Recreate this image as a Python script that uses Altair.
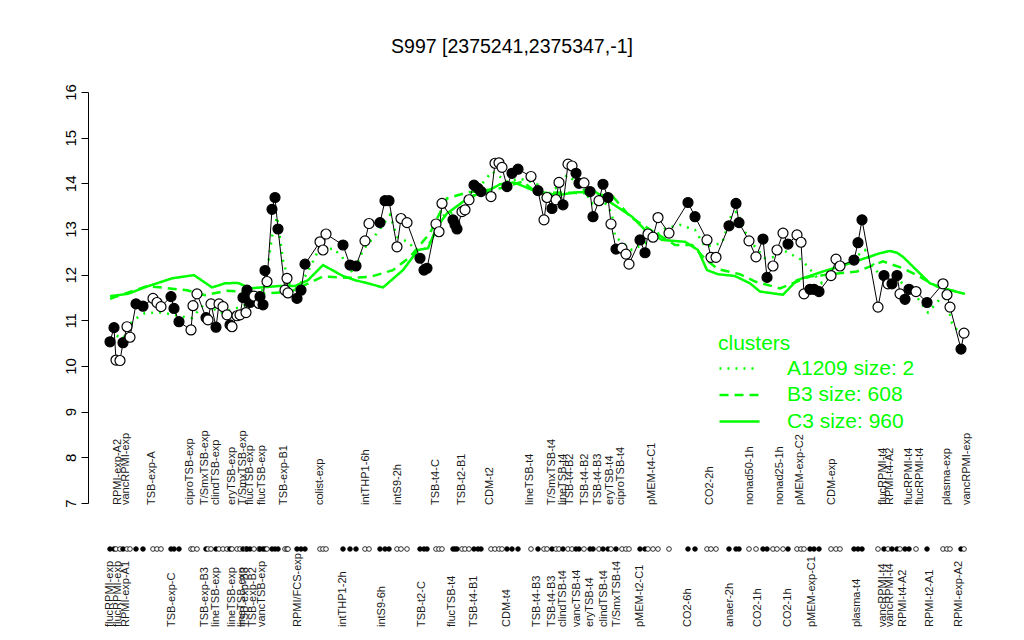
import altair as alt
import pandas as pd

# ---- gene profile (position along the condition axis, expression, filled marker?) ----
pos = [110, 114, 116, 120, 123, 127, 130, 136, 143, 153, 157, 161, 171, 174, 179, 191, 193, 197,
       206, 208, 211, 216, 219, 223, 227, 230, 232, 237, 240, 243, 246, 247, 250, 254, 259, 260,
       263, 265, 267, 272, 275, 278, 285, 287, 288, 297, 301, 305, 320, 323, 326, 343, 350, 356,
       365, 369, 380, 385, 389, 397, 401, 407, 420, 424, 427, 436, 439, 442, 453, 455, 457, 462,
       465, 469, 474, 478, 481, 491, 495, 499, 502, 507, 512, 518, 531, 538, 544, 547, 552, 556,
       559, 563, 568, 572, 576, 579, 584, 590, 593, 599, 603, 608, 611, 616, 622, 626, 629, 640,
       645, 648, 653, 658, 669, 688, 695, 707, 711, 716, 729, 736, 739, 749, 756, 763, 767, 773,
       777, 783, 788, 797, 801, 804, 810, 814, 819, 831, 836, 840, 854, 858, 862, 878, 884, 888,
       892, 897, 900, 905, 909, 916, 927, 943, 947, 950, 961, 964]
expr = [10.53, 10.84, 10.13, 10.12, 10.51, 10.86, 10.63, 11.36, 11.31, 11.48, 11.39, 11.30, 11.52,
        11.26, 10.97, 10.79, 11.32, 11.58, 11.06, 11.01, 11.36, 10.85, 11.36, 11.30, 11.12, 10.90,
        10.86, 11.10, 11.12, 11.50, 11.17, 11.66, 11.39, 11.53, 11.37, 11.52, 11.34, 12.09, 11.85,
        13.43, 13.69, 13.00, 11.66, 11.92, 11.60, 11.48, 11.66, 12.23, 12.72, 12.54, 12.89, 12.65,
        12.21, 12.19, 12.74, 13.12, 13.14, 13.62, 13.62, 12.61, 13.23, 13.14, 12.36, 12.10, 12.14,
        13.11, 12.94, 13.56, 13.20, 13.10, 13.00, 13.38, 13.42, 13.64, 13.96, 13.89, 13.82, 13.71,
        14.44, 14.45, 14.35, 13.93, 14.22, 14.31, 14.15, 13.84, 13.20, 13.69, 13.45, 13.64, 14.02,
        13.53, 14.42, 14.38, 14.22, 14.00, 14.01, 13.82, 13.27, 13.62, 13.98, 13.69, 13.11, 12.56,
        12.58, 12.45, 12.23, 12.76, 12.48, 12.89, 12.82, 13.25, 12.91, 13.58, 13.27, 12.76, 12.38,
        12.38, 13.07, 13.56, 13.14, 12.74, 12.39, 12.78, 11.94, 12.19, 12.54, 12.91, 12.67, 12.87,
        12.71, 11.58, 11.68, 11.68, 11.63, 11.98, 12.34, 12.19, 12.32, 12.70, 13.20, 11.29, 11.98,
        11.80, 11.80, 11.98, 11.58, 11.46, 11.68, 11.63, 11.39, 11.80, 11.56, 11.29, 10.37, 10.72]
filled = [1, 1, 0, 0, 1, 0, 0, 1, 1, 0, 0, 0, 1, 1, 1, 0, 0, 0, 1, 0, 0, 1, 0, 0, 0, 1, 0, 0, 0, 1,
          0, 1, 1, 0, 0, 1, 1, 1, 0, 1, 1, 1, 0, 0, 0, 1, 1, 1, 0, 0, 0, 1, 1, 1, 0, 0, 1, 1, 1, 0,
          0, 0, 1, 1, 1, 0, 0, 0, 1, 1, 1, 0, 0, 0, 1, 1, 1, 0, 0, 0, 0, 1, 1, 1, 0, 1, 0, 0, 1, 0,
          0, 1, 0, 0, 1, 1, 0, 1, 1, 0, 1, 1, 0, 1, 0, 0, 0, 1, 1, 0, 0, 0, 0, 1, 1, 0, 0, 0, 1, 1,
          1, 0, 0, 1, 1, 0, 0, 0, 1, 0, 0, 0, 1, 1, 1, 0, 0, 0, 1, 1, 1, 0, 1, 0, 1, 1, 0, 1, 1, 0,
          1, 0, 0, 0, 1, 0]

# ---- cluster mean profiles ----
c3_pos = [110, 128, 147, 172, 194, 212, 225, 238, 250, 278, 295, 308, 323, 343, 355, 368, 383,
          403, 418, 428, 437, 447, 457, 470, 487, 500, 514, 533, 557, 575, 595, 612, 632, 645,
          662, 685, 698, 707, 718, 735, 750, 760, 783, 797, 823, 850, 880, 890, 897, 903, 930,
          950, 965]
c3_val = [11.53, 11.58, 11.74, 11.92, 11.99, 11.72, 11.81, 11.82, 11.70, 11.75, 11.75, 11.88,
          12.21, 11.97, 11.88, 11.81, 11.72, 12.10, 12.54, 12.58, 13.05, 13.34, 13.50, 13.71,
          13.82, 13.98, 14.02, 13.85, 13.74, 13.80, 13.82, 13.56, 13.27, 12.98, 12.76, 12.72,
          12.54, 12.10, 12.01, 11.97, 11.81, 11.63, 11.56, 11.88, 12.07, 12.25, 12.47, 12.52,
          12.48, 12.39, 11.81, 11.66, 11.58]

b3_pos = [110, 147, 187, 205, 227, 263, 290, 323, 347, 370, 393, 410, 430, 447, 467, 500, 523,
          537, 560, 590, 613, 630, 647, 675, 692, 705, 718, 740, 755, 780, 810, 857, 883, 903,
          917, 937, 960]
b3_val = [11.47, 11.75, 11.66, 11.55, 11.65, 11.59, 11.62, 11.96, 11.93, 11.95, 12.10, 12.39,
          12.91, 13.67, 13.80, 13.89, 14.04, 13.78, 13.80, 13.78, 13.71, 13.27, 13.03, 12.65,
          12.65, 12.35, 12.12, 12.01, 11.85, 11.70, 11.96, 12.07, 12.29, 12.14, 11.99, 11.74,
          11.61]

a1209_pos = [110, 115, 123, 133, 145, 162, 183, 192, 205, 220, 242, 255, 265, 272, 277, 283, 292,
             303, 308, 317, 333, 342, 353, 363, 377, 390, 397, 410, 418, 432, 440, 450, 467, 477,
             492, 507, 520, 537, 542, 558, 567, 582, 592, 603, 612, 615, 632, 645, 665, 680, 695,
             705, 722, 732, 737, 745, 755, 765, 775, 783, 802, 822, 838, 865, 882, 893, 912, 928,
             945, 952, 962]
a1209_val = [10.60, 10.68, 10.60, 11.00, 11.16, 11.17, 11.08, 11.05, 11.38, 11.16, 11.30, 11.45,
             11.74, 12.83, 13.27, 12.32, 11.59, 11.88, 12.07, 12.47, 12.58, 12.39, 12.03, 12.54,
             12.91, 13.31, 12.83, 12.69, 12.39, 12.76, 13.27, 13.34, 13.42, 13.85, 14.26, 14.04,
             14.10, 14.00, 13.67, 13.93, 14.18, 13.93, 13.56, 13.64, 13.34, 12.83, 12.54, 12.69,
             13.01, 13.09, 12.98, 12.61, 12.69, 13.34, 13.38, 12.94, 12.61, 12.36, 12.39, 12.54,
             12.32, 11.81, 12.10, 12.54, 11.88, 11.96, 11.66, 11.17, 11.59, 10.94, 10.64]

cluster_names = ["A1209 size: 2", "B3 size: 608", "C3 size: 960"]

# ---- condition labels (two staggered rows) ----
top_names = ["RPMI-exp-A2", "vancRPMI-exp", "TSB-exp-A", "ciproTSB-exp", "T/SmxTSB-exp",
             "clindTSB-exp", "eryTSB-exp", "T/SmxTSB-exp", "flucTSB-exp", "flucTSB-exp",
             "TSB-exp-B1", "colist-exp", "intTHP1-6h", "intS9-2h", "TSB-t4-C", "TSB-t2-B1",
             "CDM-t2", "lineTSB-t4", "T/SmxTSB-t4", "lineTSB-t4", "TSB-t4-B2", "TSB-t4-B2",
             "TSB-t4-B3", "eryTSB-t4", "ciproTSB-t4", "pMEM-t4-C1", "CO2-2h", "nonad50-1h",
             "nonad25-1h", "pMEM-exp-C2", "CDM-exp", "flucRPMI-t4", "RPMI-t4-A2", "flucRPMI-t4",
             "flucRPMI-t4", "plasma-exp", "vancRPMI-exp"]
top_pos = [118, 126, 152, 190, 205, 216, 232, 243, 250, 262, 284, 320, 366, 398, 436, 462, 490,
           530, 552, 563, 570, 585, 598, 610, 621, 652, 710, 750, 780, 800, 832, 883, 890, 909,
           920, 947, 967]
bottom_names = ["flucRPMI-exp", "flucRPMI-exp", "RPMI-exp-A1", "TSB-exp-C", "TSB-exp-B3",
                "lineTSB-exp", "lineTSB-exp", "lineTSB-exp", "TSB-exp-B3", "TSB-exp-B2",
                "vancTSB-exp", "RPMI/FCS-exp", "intTHP1-2h", "intS9-6h", "TSB-t2-C", "flucTSB-t4",
                "TSB-t4-B1", "CDM-t4", "TSB-t4-B3", "TSB-t4-B3", "clindTSB-t4", "vancTSB-t4",
                "eryTSB-t4", "clindTSB-t4", "T/SmxTSB-t4", "pMEM-t2-C1", "CO2-6h", "anaer-2h",
                "CO2-1h", "CO2-1h", "pMEM-exp-C1", "plasma-t4", "vancRPMI-t4", "vancRPMI-t4",
                "RPMI-t4-A2", "RPMI-t2-A1", "RPMI-exp-A2"]
bottom_pos = [110, 118, 126, 172, 205, 216, 232, 242, 245, 253, 262, 298, 343, 382, 422, 452, 474,
              507, 537, 552, 563, 577, 590, 604, 617, 640, 688, 730, 758, 788, 812, 857, 883, 890,
              903, 930, 959]

TITLE = "S997 [2375241,2375347,-1]"
GREEN = "#00ff00"
FONT = "Liberation Sans"

pts = pd.DataFrame({"pos": pos, "expr": expr,
                    "kind": ["filled" if f else "open" for f in filled]})
clus = pd.concat([
    pd.DataFrame({"pos": a1209_pos, "expr": a1209_val, "cluster": cluster_names[0]}),
    pd.DataFrame({"pos": b3_pos, "expr": b3_val, "cluster": cluster_names[1]}),
    pd.DataFrame({"pos": c3_pos, "expr": c3_val, "cluster": cluster_names[2]}),
], ignore_index=True)
top_df = pd.DataFrame({"pos": top_pos, "name": top_names})
bot_df = pd.DataFrame({"pos": bottom_pos, "name": bottom_names})
title_df = pd.DataFrame({"t": [TITLE]})

xscale = alt.Scale(domain=[88, 975], nice=False, zero=False)
yscale = alt.Scale(domain=[7, 16], nice=False, zero=False)
X = alt.X("pos:Q", scale=xscale, axis=None)
yaxis = alt.Axis(values=list(range(7, 17)), labelAngle=270, labelAlign="center",
                 labelBaseline="bottom", tickSize=7, labelPadding=3, labelFontSize=15,
                 labelFont=FONT, labelColor="black", tickColor="black", domainColor="black",
                 grid=False, title=None)
Y = alt.Y("expr:Q", scale=yscale, axis=yaxis)

kind_fill = alt.Fill("kind:N", scale=alt.Scale(domain=["filled", "open"], range=["black", "white"]),
                     legend=None)

green = alt.Chart(clus).mark_line(color=GREEN, strokeWidth=2.5).encode(
    X, Y,
    strokeDash=alt.StrokeDash(
        "cluster:N",
        scale=alt.Scale(domain=cluster_names, range=[[2, 6], [9, 6], [1, 0]]),
        legend=alt.Legend(title="clusters", orient="none", legendX=630, legendY=241,
                          symbolType="M-1,0H3", symbolSize=400, symbolStrokeWidth=2.5,
                          symbolStrokeColor=GREEN, labelColor=GREEN, titleColor=GREEN,
                          labelFontSize=21, titleFontSize=21, titleFontWeight="normal",
                          labelFont=FONT, titleFont=FONT, labelOffset=46, rowPadding=4.5,
                          titlePadding=3, padding=0, labelLimit=300)))

line = alt.Chart(pts).mark_line(color="black", strokeWidth=1).encode(X, Y)

points = alt.Chart(pts).mark_circle(size=100, stroke="black", strokeWidth=1.2, opacity=1).encode(
    X, Y, fill=kind_fill)

rug = alt.Chart(pts).mark_circle(size=22, stroke="black", strokeWidth=0.8, opacity=1).encode(
    X, y=alt.value(457), fill=kind_fill)

top_txt = alt.Chart(top_df).mark_text(angle=270, align="left", baseline="middle", fontSize=11,
                                      font=FONT, color="#1a1a1a").encode(
    X, y=alt.value(413), text="name:N")
bot_txt = alt.Chart(bot_df).mark_text(angle=270, align="left", baseline="middle", fontSize=11,
                                      font=FONT, color="#1a1a1a").encode(
    X, y=alt.value(535), text="name:N")

title = alt.Chart(title_df).mark_text(fontSize=19.5, font=FONT, color="black", align="center",
                                      baseline="middle").encode(
    x=alt.value(424), y=alt.value(-45), text="t:N")

chart = alt.layer(green, line, points, rug, top_txt, bot_txt, title).properties(
    width=887, height=411,
    padding={"left": 80, "top": 84, "right": 41, "bottom": 130},
    autosize=alt.AutoSizeParams(type="none"),
).configure(font=FONT, background="white").configure_view(stroke=None)

chart.save("out.html", embed_options={"renderer": "svg", "actions": False})
